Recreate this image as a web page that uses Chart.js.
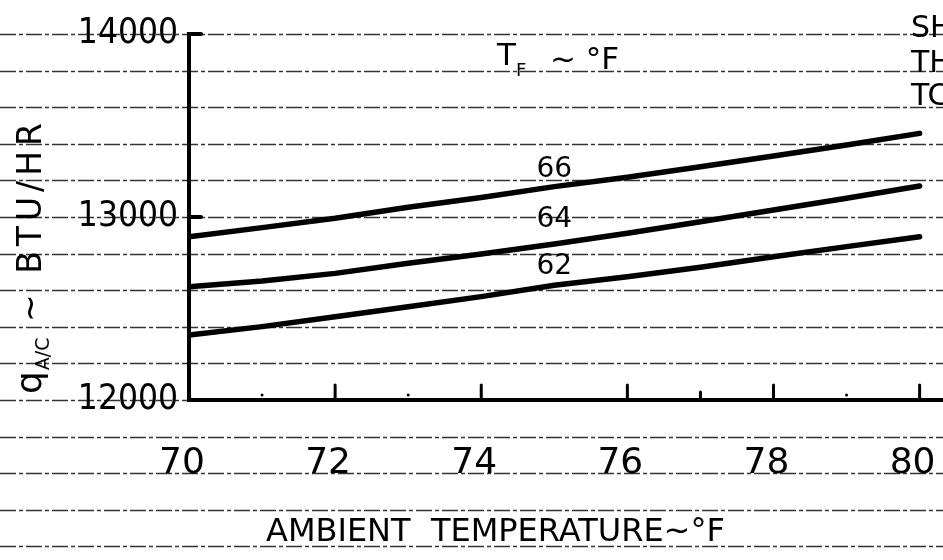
<!DOCTYPE html>
<html>
<head>
<meta charset="utf-8">
<script src="https://cdn.jsdelivr.net/npm/chart.js@4.4.1/dist/chart.umd.min.js"></script>
<style>
html,body{margin:0;padding:0;background:#fff}
#wrap{width:943px;height:560px;position:relative}
</style>
</head>
<body>
<div id="wrap"><canvas id="chart"></canvas></div>
<script>
// ambient temperature (°F) vs A/C capacity (BTU/HR) for three T_F values
const ambientTemps = [70,71,72,73,74,75,76,77,78,79,80];
const qAt66 = [12892,12942,12993,13053,13107,13166,13217,13275,13333,13393,13457];
const qAt64 = [12619,12650,12692,12747,12798,12852,12911,12974,13038,13102,13169];
const qAt62 = [12355,12401,12455,12510,12565,12627,12674,12725,12783,12838,12892];
const seriesNames = ['66','64','62'];
const nameSpots = [[75,13257],[75,12984],[75,12727]];

const xTicks = [70,72,74,76,78,80];
const xMinorTicks = [77];
const xDots = [71,73,79];
const yTicks = [12000,13000,14000];
const yAxisMarks = [13000,14000];
// ruled lines of the graph paper, every 200 BTU/HR
const paperLines = [11200,11400,11600,11800,12000,12200,12400,12600,12800,13000,13200,13400,13600,13800,14000,14200];

const ink = '#000';
const hand = '"DejaVu Sans", sans-serif';

const pts = arr => arr.map((v,i) => ({x: ambientTemps[i], y: v}));
const curve = arr => ({
  data: pts(arr), borderColor: ink, borderWidth: 5.5, pointRadius: 0,
  tension: 0, fill: false, borderCapStyle: 'round', borderJoinStyle: 'round'
});

const paper = {
  id: 'paper',
  beforeDraw(chart){
    const {ctx, width, scales:{y}} = chart;
    ctx.save();
    ctx.fillStyle = '#fff';
    ctx.fillRect(0,0,width,chart.height);
    ctx.strokeStyle = 'rgba(0,0,0,.8)';
    ctx.lineWidth = 1.5;
    ctx.setLineDash([16,3,4,3]);
    paperLines.forEach(v => {
      const py = Math.round(y.getPixelForValue(v)) + .5;
      ctx.beginPath(); ctx.moveTo(0,py); ctx.lineTo(width,py); ctx.stroke();
    });
    ctx.restore();
  }
};

const inkMarks = {
  id: 'inkMarks',
  afterDraw(chart){
    const {ctx, scales:{x,y}} = chart;
    const base = y.getPixelForValue(12000);
    const left = x.getPixelForValue(70);
    ctx.save();
    ctx.strokeStyle = ink; ctx.fillStyle = ink; ctx.lineCap = 'round';
    // ticks drawn up from the x axis
    ctx.lineWidth = 3;
    xTicks.slice(1).forEach(v => {
      const px = x.getPixelForValue(v);
      ctx.beginPath(); ctx.moveTo(px,base); ctx.lineTo(px,base-15); ctx.stroke();
    });
    xMinorTicks.forEach(v => {
      const px = x.getPixelForValue(v);
      ctx.beginPath(); ctx.moveTo(px,base); ctx.lineTo(px,base-8); ctx.stroke();
    });
    xDots.forEach(v => {
      const px = x.getPixelForValue(v);
      ctx.beginPath(); ctx.arc(px,base-5,1.5,0,Math.PI*2); ctx.fill();
    });
    // short marks to the right of the y axis
    ctx.lineWidth = 4;
    yAxisMarks.forEach(v => {
      const py = y.getPixelForValue(v);
      ctx.beginPath(); ctx.moveTo(left,py); ctx.lineTo(left+12,py); ctx.stroke();
    });

    // curve names
    ctx.textAlign = 'center'; ctx.textBaseline = 'middle';
    ctx.font = '28px ' + hand;
    seriesNames.forEach((n,i) => {
      ctx.fillText(n, x.getPixelForValue(nameSpots[i][0]), y.getPixelForValue(nameSpots[i][1]));
    });

    // T_F ~ °F
    ctx.textAlign = 'left'; ctx.textBaseline = 'alphabetic';
    ctx.font = '31px ' + hand;
    ctx.fillText('T', 497, 65);
    ctx.font = '18px ' + hand;
    ctx.fillText('F', 516, 76);
    ctx.font = '31px ' + hand;
    ctx.fillText('~ °F', 550, 69);

    // cut-off note at the right edge
    ctx.font = '30px ' + hand;
    ctx.fillText('SH', 911, 37);
    ctx.fillText('TH', 911, 72);
    ctx.fillText('TC', 911, 105);

    // x axis title
    ctx.font = '32px ' + hand;
    ctx.fillText('AMBIENT  TEMPERATURE~°F', 266, 541);

    // y axis title, rotated
    ctx.translate(41, 394);
    ctx.rotate(-Math.PI/2);
    ctx.font = '36px ' + hand;
    ctx.fillText('q', 0, 0);
    let w = ctx.measureText('q').width + 1;
    ctx.font = '19px ' + hand;
    ctx.fillText('A/C', w, 8);
    w += ctx.measureText('A/C').width;
    ctx.font = '33px ' + hand;
    ctx.letterSpacing = '5px';
    ctx.fillText(' ~ BTU/HR', w, 0);
    ctx.restore();
  }
};

new Chart(document.getElementById('chart'), {
  type: 'line',
  data: { datasets: [curve(qAt66), curve(qAt64), curve(qAt62)] },
  options: {
    responsive: true, maintainAspectRatio: false, animation: false,
    layout: { padding: { top: 34, left: 0, right: 0, bottom: 0 } },
    plugins: { legend: { display: false }, tooltip: { enabled: false } },
    scales: {
      x: {
        type: 'linear', min: 70, max: 80.32,
        afterBuildTicks: s => { s.ticks = xTicks.map(v => ({value: v})); },
        afterFit: s => { s.height = 160; s.paddingRight = 0; s.paddingLeft = 0; },
        grid: { display: false, drawTicks: false },
        border: { display: true, color: ink, width: 4 },
        ticks: { color: ink, font: { family: hand, size: 36 }, padding: 42, labelOffset: -7, maxRotation: 0, autoSkip: false }
      },
      y: {
        min: 12000, max: 14000,
        afterBuildTicks: s => { s.ticks = yTicks.map(v => ({value: v})); },
        afterFit: s => { s.width = 189; },
        grid: { display: false, drawTicks: false },
        border: { display: true, color: ink, width: 4 },
        ticks: { color: ink, font: { family: '"DejaVu Sans Condensed", "DejaVu Sans", sans-serif', size: 35 }, padding: 11, callback: v => String(v) }
      }
    }
  },
  plugins: [paper, inkMarks]
});
</script>
</body>
</html>
